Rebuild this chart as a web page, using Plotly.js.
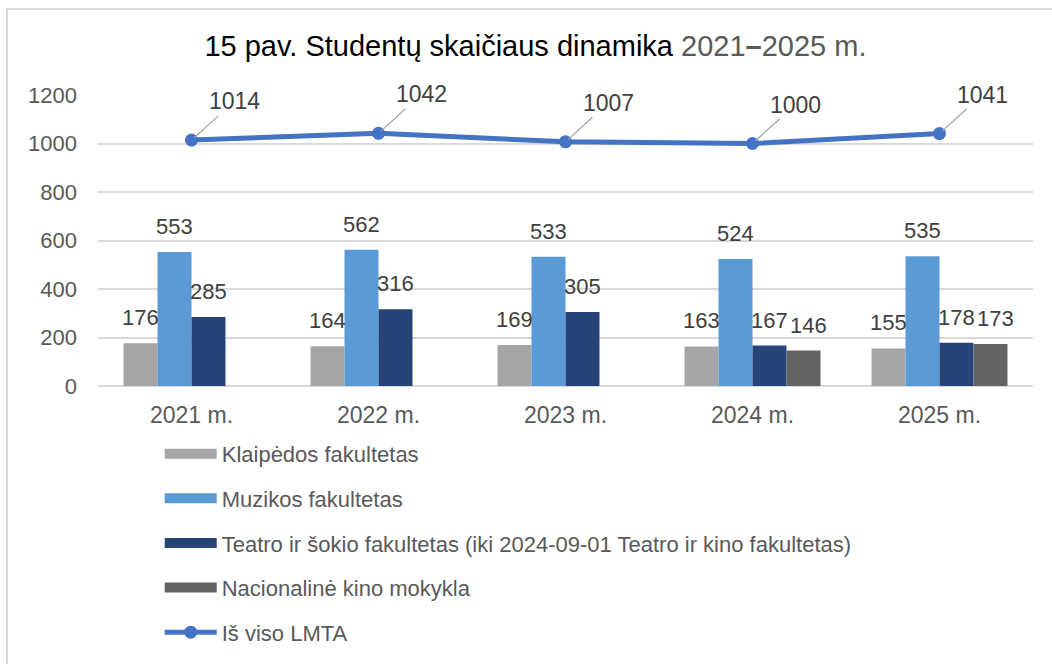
<!DOCTYPE html>
<html>
<head>
<meta charset="utf-8">
<script src="https://cdn.plot.ly/plotly-3.0.1.min.js"></script>
<style>
  html, body { margin: 0; padding: 0; background: #ffffff; }
  #wrap { position: relative; width: 1052px; height: 664px; overflow: hidden; }
  #chart { position: absolute; left: 0; top: 0; width: 1052px; height: 664px; }
  #frame { position: absolute; left: 6px; top: 8px; width: 1100px; height: 700px;
           border-left: 2px solid #D9D9D9; border-top: 2px solid #D9D9D9; pointer-events: none; }
</style>
</head>
<body>
<div id="wrap">
  <div id="chart"></div>
  <div id="frame"></div>
</div>
<script>
const years = ["2021 m.", "2022 m.", "2023 m.", "2024 m.", "2025 m."];
const klaipeda = [176, 164, 169, 163, 155];
const muzika = [553, 562, 533, 524, 535];
const teatras = [285, 316, 305, 167, 178];
const kino = [null, null, null, 146, 173];
const total = [1014, 1042, 1007, 1000, 1041];

const seriesNames = [
  "Klaipėdos fakultetas",
  "Muzikos fakultetas",
  "Teatro ir šokio fakultetas (iki 2024-09-01 Teatro ir kino fakultetas)",
  "Nacionalinė kino mokykla"
];
const totalName = "Iš viso LMTA";
const barColors = ["#A5A5A5", "#5B9BD5", "#264478", "#636363"];
const lineColor = "#4472C4";

const FONT = "Liberation Sans, Arial, sans-serif";
const barSeries = [klaipeda, muzika, teatras, kino];

const traces = [];
barSeries.forEach((vals, i) => {
  traces.push({
    type: "bar", x: years, y: vals, name: seriesNames[i],
    marker: { color: barColors[i] }, showlegend: false,
    legendgroup: "g" + i, hoverinfo: "y+name"
  });
});
// legend swatches (legend-only entries)
barSeries.forEach((vals, i) => {
  traces.push({
    type: "scatter", mode: "lines", x: [null], y: [null], name: seriesNames[i],
    line: { color: barColors[i], width: 14 }, legendgroup: "g" + i, hoverinfo: "skip"
  });
});
traces.push({
  type: "scatter", mode: "lines+markers", x: years, y: total, name: totalName,
  line: { color: lineColor, width: 5 }, marker: { color: lineColor, size: 13 },
  legendgroup: "g4", cliponaxis: false
});

// Bar value labels
const annotations = [];
const slot = 34;
const shifts = [-1.5 * slot, -0.5 * slot, 0.5 * slot, 1.5 * slot + 5];
barSeries.forEach((vals, i) => {
  vals.forEach((v, j) => {
    if (v === null) return;
    annotations.push({
      x: years[j], y: v, xref: "x", yref: "y", text: String(v),
      showarrow: false, yanchor: "bottom", xanchor: "center",
      xshift: shifts[i], yshift: 11,
      font: { family: FONT, size: 22, color: "#404040" }
    });
  });
});
total.forEach((v, j) => {
  annotations.push({
    x: years[j], y: v, xref: "x", yref: "y", text: String(v),
    showarrow: true, arrowhead: 0, arrowwidth: 1.3, arrowcolor: "#A6A6A6",
    ax: 43, ay: -39, standoff: 4,
    font: { family: FONT, size: 23, color: "#404040" }
  });
});

const layout = {
  width: 1052, height: 664,
  margin: { l: 98, r: 19, t: 95, b: 278 },
  paper_bgcolor: "rgba(0,0,0,0)", plot_bgcolor: "#ffffff",
  font: { family: FONT, color: "#595959" },
  title: {
    text: "15 pav. Studentų skaičiaus dinamika <span style='fill:#595959'>2021<b>–</b>2025 m.</span>",
    font: { family: FONT, size: 29, color: "#000000" },
    x: 0.509, xanchor: "center", y: 0.931, yanchor: "middle"
  },
  barmode: "group", bargap: 0.273, bargroupgap: 0,
  xaxis: {
    type: "category", showgrid: false, zeroline: false, showline: false,
    ticks: "", ticklabelstandoff: 13,
    tickfont: { family: FONT, size: 23, color: "#595959" }
  },
  yaxis: {
    range: [0, 1200], dtick: 200, showgrid: true, gridcolor: "#D9D9D9", gridwidth: 1.5,
    zeroline: true, zerolinecolor: "#D9D9D9", zerolinewidth: 1.5, showline: false,
    ticks: "", ticklabelstandoff: 20,
    tickfont: { family: FONT, size: 22, color: "#595959" }
  },
  showlegend: true,
  legend: {
    orientation: "v", x: 0.066, xanchor: "left",
    yref: "container", y: 0.348, yanchor: "top",
    traceorder: "grouped", tracegroupgap: 13, itemwidth: 52,
    font: { family: FONT, size: 22, color: "#595959" },
    bgcolor: "rgba(0,0,0,0)"
  },
  annotations: annotations
};

Plotly.newPlot("chart", traces, layout, { displayModeBar: false, staticPlot: false });
</script>
</body>
</html>
